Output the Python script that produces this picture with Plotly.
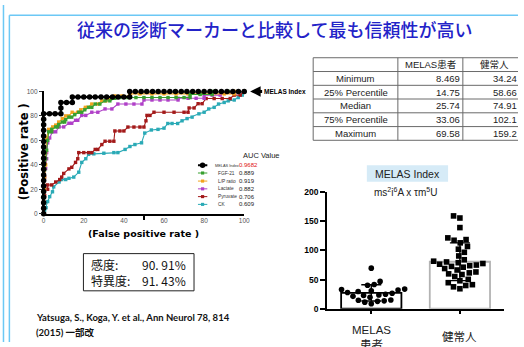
import numpy as np
import plotly.graph_objects as go

W, H = 524, 347


def fx(x):
    """pixel column -> paper x"""
    return x / W


def fy(y):
    """pixel row -> paper y"""
    return 1 - y / H


SANS = "Liberation Sans, Noto Sans CJK JP"
CJK = "Noto Sans CJK JP"

# ---------------- ROC curves: false positive rate (%) / sensitivity (%) ----------------
melas_index_fpr = [0, 0, 0, 0, 0, 0, 0, 0, 0, 0, 0, 0, 0, 0, 0, 0, 0, 0, 0,
                   2.9, 5.7, 8.6, 8.6, 8.6, 11.4, 14.3, 14.3,
                   17.1, 20.0, 22.9, 25.7, 28.6, 31.4, 34.3, 37.1, 40.0, 42.9, 42.9,
                   45.7, 48.6, 51.4, 54.3, 57.1, 60.0, 62.9, 65.7, 68.6, 71.4,
                   74.3, 77.1, 80.0, 82.9, 85.7, 88.6, 91.4, 94.3, 97.1, 100]
melas_index_tpr = [0, 4.5, 9.1, 13.6, 18.2, 22.7, 27.3, 31.8, 36.4, 40.9, 45.5, 50.0,
                   54.5, 59.1, 63.6, 68.2, 72.7, 77.3, 81.8,
                   81.8, 81.8, 81.8, 86.4, 90.9, 90.9, 90.9, 95.5,
                   95.5, 95.5, 95.5, 95.5, 95.5, 95.5, 95.5, 95.5, 95.5, 95.5, 100,
                   100, 100, 100, 100, 100, 100, 100, 100, 100, 100,
                   100, 100, 100, 100, 100, 100, 100, 100, 100, 100]

fgf21_fpr = [0, 0, 0, 0, 0.5, 1, 1.5, 2, 2.5, 4, 4, 6, 7, 7.5, 9.3, 10.5, 11, 12.6, 14, 15.5,
             17.5, 19, 20.5, 22.4, 24, 25.7, 28, 30.6, 33, 35.5, 38, 42, 46, 50, 54, 58, 62,
             66, 70, 73, 73, 78, 84, 84, 92, 100]
fgf21_tpr = [0, 9, 18, 27, 36, 45, 52, 60, 67, 67, 69, 71, 71, 73, 75, 75, 77, 79, 79, 81,
             83, 83, 85, 87, 87, 89.7, 89.7, 92.3, 92.3, 94.4, 95, 95, 95, 95, 95, 95, 95,
             95, 95, 95, 97.5, 97.5, 97.5, 100, 100, 100]

lp_fpr = [0, 0, 0.5, 0.5, 1, 1, 1.5, 2.5, 4, 4.5, 6, 7.5, 9.3, 11, 12.5, 14.2, 17, 18.5,
          20.8, 22, 24, 27, 29, 31, 32.3, 34, 35.5, 39, 43, 43, 48, 54, 60, 66, 72, 78, 84,
          90, 95, 95, 100]
lp_tpr = [0, 10, 20, 30, 40, 50, 62, 69, 69, 71, 72.5, 75, 77.8, 80, 80, 83, 83, 85,
          87, 87, 89.7, 89.7, 92.3, 92.3, 94.4, 94.4, 96.3, 96.3, 96.3, 98, 98, 98, 98, 98,
          98, 98, 98, 98, 98, 100, 100]

lactate_fpr = [0, 0, 0.5, 0.5, 1, 1.5, 1.5, 2, 3, 4.4, 6, 7.7, 10, 12.6, 14, 15.9, 17, 19,
               21, 24, 27, 30.6, 34, 37, 41, 45, 49, 50, 54, 58, 62, 67, 67, 72, 76, 80, 80,
               84, 88, 90, 95, 100]
lactate_tpr = [0, 10, 20, 30, 37, 45, 50, 58, 62, 67, 67, 71, 71, 74, 74, 76.4, 76.4, 80.4,
               80.4, 83, 83, 85.7, 85.7, 89.7, 89.7, 89.7, 89.7, 93, 93, 93, 93, 93, 94.4,
               94.4, 94.4, 94.4, 97, 97, 97, 98.5, 98.5, 100]

pyruvate_fpr = [0, 0, 0, 0.5, 1, 2, 2, 4, 6, 8, 9, 10, 12.6, 14, 15.9, 17, 17.5, 20, 22.4,
                24, 25.7, 27, 29, 30.6, 33, 35, 35.5, 38, 40, 42, 45, 48, 50, 51, 51.5, 53,
                55, 60, 65, 70, 72, 72.5, 75, 77, 79, 81, 85, 89, 93, 95, 98, 100]
pyruvate_tpr = [0, 5, 10, 15, 20, 20, 23.6, 23.6, 26, 28, 30, 33, 36.7, 38, 42, 45, 50, 50,
                50, 50, 52.6, 52.6, 56.6, 59.3, 59.3, 59.3, 67.7, 67.7, 67.7, 70.9, 70.9,
                70.9, 70.9, 76, 80.4, 80.4, 83, 83, 83, 83, 83, 86.5, 86.5, 90, 90, 94.2,
                94.2, 94.2, 94.2, 97, 97, 100]

ck_fpr = [0, 0.5, 1.2, 2, 3, 4.4, 5, 7.7, 9, 11, 12.6, 15, 17.5, 19, 21, 22.4, 25, 30, 35,
          37, 40.6, 43, 45.5, 48.8, 50.4, 53.7, 57, 60, 61.9, 64, 66.8, 69, 71.5, 74, 77.4,
          80, 82.3, 85, 87.2, 90, 92, 95, 97, 99, 100]
ck_tpr = [0, 3, 5, 10, 14, 18, 22, 26, 28, 28, 29, 30, 34, 42, 45, 48.6, 49, 49.5, 50, 50,
          52.6, 55, 56.6, 58, 66, 68.5, 69, 70, 73.8, 73.8, 73.8, 76, 77.8, 79, 81.7, 83,
          85.7, 87, 89.7, 91, 92.3, 93, 95, 97, 100]

roc_names = ["MELAS Index", "FGF-21", "L/P ratio", "Lactate", "Pyruvate", "CK"]
roc_auc = ["0.9682", "0.889", "0.919", "0.882", "0.706", "0.609"]
roc_colors = ["#000000", "#38a030", "#f2a31e", "#b040c8", "#a31a1a", "#2aaab6"]
roc_fpr = [melas_index_fpr, fgf21_fpr, lp_fpr, lactate_fpr, pyruvate_fpr, ck_fpr]
roc_tpr = [melas_index_tpr, fgf21_tpr, lp_tpr, lactate_tpr, pyruvate_tpr, ck_tpr]

# ---------------- summary table ----------------
table_header = ["MELAS患者", "健常人"]
table_rows = ["Minimum", "25% Percentile", "Median", "75% Percentile", "Maximum"]
table_melas = ["8.469", "14.75", "25.74", "33.06", "69.58"]
table_healthy = ["34.24", "58.66", "74.91", "102.1", "159.2"]

# ---------------- MELAS index per subject ----------------
groups = ["MELAS患者", "健常人"]
group_labels = ["MELAS<br>患者", "健常人"]
melas_values = [8.47, 11.2, 12.6, 13.5, 14.5, 14.83, 19.6, 21.2, 22.8, 23.7, 24.9,
                26.58, 27.8, 29.4, 30.8, 31.9, 32.9, 33.6, 40.2, 41.5, 46.8, 69.58]
healthy_values = [34.24, 37.5, 39.8, 41.2, 44.6, 47.9, 50.3, 55.2, 58.66, 59.8, 61.5,
                  63.0, 66.4, 68.9, 71.2, 72.6, 73.8, 74.91, 76.3, 77.5, 78.9, 80.2,
                  81.5, 84.0, 90.5, 96.8, 102.1, 106.8, 113.0, 117.4, 118.6, 121.5,
                  139.2, 155.6, 159.2]

sens_labels = ["感度:", "特異度:"]
sens_values = ["90. 91%", "91. 43%"]

fig = go.Figure()

# ---- ROC plot (drawn back to front, MELAS Index on top) ----
for i in range(len(roc_names) - 1, -1, -1):
    is_main = i == 0
    fig.add_trace(go.Scatter(
        x=roc_fpr[i], y=roc_tpr[i], mode="lines+markers",
        line=dict(color=roc_colors[i], width=2 if is_main else 1.1),
        marker=dict(color=roc_colors[i], size=5.5 if is_main else 3.4,
                    symbol="circle" if is_main else "square"),
        cliponaxis=False, showlegend=False, hoverinfo="skip",
        xaxis="x", yaxis="y"))

# ---- bar + scatter dot plot ----
px_per_unit = 120 / 200.0   # vertical pixels per index unit
px_per_cat = 90.0            # horizontal pixels per category


def swarm(values, diam):
    vals = np.asarray(values, float)
    offs = np.zeros(len(vals))
    placed = []
    for i in np.argsort(vals, kind="stable"):
        y = vals[i] * px_per_unit
        blocked = []
        for xj, yj in placed:
            dy = abs(y - yj)
            if dy < diam:
                w = np.sqrt(diam ** 2 - dy ** 2)
                blocked.append((xj - w, xj + w))
        cands = [0.0] + [a for a, _ in blocked] + [b for _, b in blocked]
        cands.sort(key=lambda c: (abs(c), c))
        for c in cands:
            if all(not (a + 1e-6 < c < b - 1e-6) for a, b in blocked):
                offs[i] = c
                break
        placed.append((offs[i], y))
    return offs / px_per_cat


means = [float(np.mean(melas_values)), float(np.mean(healthy_values))]
sds = [float(np.std(melas_values, ddof=1)), float(np.std(healthy_values, ddof=1))]

fig.add_trace(go.Bar(
    x=[0, 1], y=means, width=0.68,
    marker=dict(color="white", line=dict(color=["#000000", "#b3b3b3"], width=1.8)),
    error_y=dict(type="data", array=sds, color="black", thickness=1.4, width=10),
    showlegend=False, hoverinfo="skip", xaxis="x2", yaxis="y2"))

for k, (vals, sym) in enumerate([(melas_values, "circle"), (healthy_values, "square")]):
    off = swarm(vals, 6.8)
    fig.add_trace(go.Scatter(
        x=k + off, y=vals, mode="markers",
        marker=dict(color="black", size=5.6, symbol=sym, line=dict(width=0)),
        cliponaxis=False, showlegend=False, hoverinfo="skip",
        xaxis="x2", yaxis="y2"))

shapes = []
ann = []

# slide frame
frame_col = "#6cc8f5"
shapes += [
    dict(type="line", xref="paper", yref="paper", x0=fx(1.5), x1=fx(1.5), y0=0, y1=1,
         line=dict(color=frame_col, width=1.5)),
    dict(type="line", xref="paper", yref="paper", x0=fx(7.5), x1=fx(7.5), y0=0, y1=fy(10.5),
         line=dict(color=frame_col, width=1.5)),
    dict(type="line", xref="paper", yref="paper", x0=fx(7.5), x1=1, y0=fy(10.5), y1=fy(10.5),
         line=dict(color=frame_col, width=1.5)),
]

# title
ann.append(dict(x=fx(277), y=fy(25), xref="paper", yref="paper", text="従来の診断マーカーと比較して最も信頼性が高い",
                showarrow=False, xanchor="center", yanchor="middle",
                font=dict(family=CJK, size=18, color="#2323c8", weight=500)))

# ROC axis titles
ann.append(dict(x=fx(22), y=fy(151), xref="paper", yref="paper", text="(Positive rate )",
                textangle=-90, showarrow=False, xanchor="center", yanchor="middle",
                font=dict(family="DejaVu Sans", size=11.5, color="black", weight="bold")))
ann.append(dict(x=fx(144), y=fy(235), xref="paper", yref="paper", text="(False positive rate )",
                showarrow=False, xanchor="center", yanchor="middle",
                font=dict(family="DejaVu Sans", size=9.5, color="black", weight="bold")))

# arrow label for the MELAS Index curve
ann.append(dict(x=fx(252), y=fy(89), xref="paper", yref="paper", text="MELAS Index",
                showarrow=True, ax=12, ay=0, xanchor="left", yanchor="middle",
                arrowhead=2, arrowsize=0.7, arrowwidth=3, arrowcolor="black", standoff=0,
                font=dict(family=SANS, size=6.5, color="black", weight="bold")))

# AUC legend
ann.append(dict(x=fx(243), y=fy(155), xref="paper", yref="paper", text="AUC Value",
                showarrow=False, xanchor="left", yanchor="middle",
                font=dict(family=SANS, size=7.5, color="#222")))
row_y = [165, 173, 181.3, 189.3, 197.3, 205.3]
for i, name in enumerate(roc_names):
    yy = row_y[i]
    shapes.append(dict(type="line", xref="paper", yref="paper", x0=fx(199), x1=fx(208.5),
                       y0=fy(yy), y1=fy(yy),
                       line=dict(color=roc_colors[i], width=2 if i == 0 else 1)))
    r = 2.8 if i == 0 else 1.6
    shapes.append(dict(type="circle" if i == 0 else "rect", xref="paper", yref="paper",
                       x0=fx(203.7 - r), x1=fx(203.7 + r), y0=fy(yy + r), y1=fy(yy - r),
                       fillcolor=roc_colors[i], line=dict(width=0)))
    ann.append(dict(x=fx(214 if i == 0 else 217.5), y=fy(yy), xref="paper", yref="paper",
                    text=name, showarrow=False, xanchor="left", yanchor="middle",
                    font=dict(family=SANS, size=3.9 if i == 0 else 4.8, color="#333")))
    ann.append(dict(x=fx(238.5), y=fy(yy), xref="paper", yref="paper", text=roc_auc[i],
                    showarrow=False, xanchor="left", yanchor="middle",
                    font=dict(family=SANS, size=6, color="#e01010" if i == 0 else "#222")))

# summary table
t_lines_y = [54.3, 68.5, 82.7, 96.8, 111.0, 125.2, 139.3]
t_col_x = [316, 402, 468]
tcol = "#6a6a6a"
for yy in t_lines_y:
    shapes.append(dict(type="line", xref="paper", yref="paper", x0=fx(316), x1=1,
                       y0=fy(yy), y1=fy(yy), line=dict(color=tcol, width=1)))
for xx in t_col_x:
    shapes.append(dict(type="line", xref="paper", yref="paper", x0=fx(xx), x1=fx(xx),
                       y0=fy(54.3), y1=fy(139.3), line=dict(color=tcol, width=1)))
tfont = dict(family=SANS, size=9.5, color="#222")
ann.append(dict(x=fx(435), y=fy(61.5), xref="paper", yref="paper", text=table_header[0],
                showarrow=False, xanchor="center", yanchor="middle", font=tfont))
ann.append(dict(x=fx(483), y=fy(61.5), xref="paper", yref="paper", text=table_header[1],
                showarrow=False, xanchor="left", yanchor="middle", font=tfont))
for j in range(len(table_rows)):
    yy = (t_lines_y[j + 1] + t_lines_y[j + 2]) / 2
    ann.append(dict(x=fx(359), y=fy(yy), xref="paper", yref="paper", text=table_rows[j],
                    showarrow=False, xanchor="center", yanchor="middle", font=tfont))
    ann.append(dict(x=fx(467), y=fy(yy), xref="paper", yref="paper", text=table_melas[j],
                    showarrow=False, xanchor="right", yanchor="middle", font=tfont))
    ann.append(dict(x=fx(525), y=fy(yy), xref="paper", yref="paper", text=table_healthy[j],
                    showarrow=False, xanchor="right", yanchor="middle", font=tfont))

# dot plot heading
shapes.append(dict(type="rect", xref="paper", yref="paper", x0=fx(370.5), x1=fx(453),
                   y0=fy(182), y1=fy(165), fillcolor="#d6ebf7", line=dict(width=0)))
ann.append(dict(x=fx(411.7), y=fy(173.5), xref="paper", yref="paper", text="MELAS Index",
                showarrow=False, xanchor="center", yanchor="middle",
                font=dict(family=SANS, size=10.5, color="#222")))
ann.append(dict(x=fx(410), y=fy(193), xref="paper", yref="paper",
                text="ms<sup>2</sup>i<sup>6</sup>A x τm<sup>5</sup>U",
                showarrow=False, xanchor="center", yanchor="middle",
                font=dict(family=SANS, size=10, color="#222")))
for k, lab in enumerate(group_labels):
    ann.append(dict(x=k, y=fy(342), xref="x2", yref="paper", text=lab,
                    showarrow=False, xanchor="center", yanchor="middle",
                    font=dict(family=SANS, size=11.5, color="#222")))

# sensitivity / specificity box
shapes.append(dict(type="rect", xref="paper", yref="paper", x0=fx(82.7), x1=fx(195),
                   y0=fy(294.3), y1=fy(256), line=dict(color="#222", width=1)))
for j, yy in enumerate([267.5, 283.3]):
    ann.append(dict(x=fx(88), y=fy(yy), xref="paper", yref="paper", text=sens_labels[j],
                    showarrow=False, xanchor="left", yanchor="middle",
                    font=dict(family=CJK, size=12, color="#111")))
    ann.append(dict(x=fx(189), y=fy(yy), xref="paper", yref="paper", text=sens_values[j],
                    showarrow=False, xanchor="right", yanchor="middle",
                    font=dict(family=CJK, size=12, color="#111")))

# citation
cite_font = dict(family="Lato, Noto Sans CJK JP", size=9.5, color="#111", weight="bold")
ann.append(dict(x=fx(33), y=fy(322), xref="paper", yref="paper",
                text="Yatsuga, S., Koga, Y. et al., Ann Neurol 78, 814",
                showarrow=False, xanchor="left", yanchor="middle", font=cite_font))
ann.append(dict(x=fx(33), y=fy(337), xref="paper", yref="paper", text="(2015) 一部改",
                showarrow=False, xanchor="left", yanchor="middle", font=cite_font))

tick_small = dict(family=SANS, size=6.5, color="#555")
fig.update_layout(
    width=W, height=H, margin=dict(l=0, r=0, t=0, b=0),
    paper_bgcolor="white", plot_bgcolor="rgba(0,0,0,0)",
    showlegend=False,
    xaxis=dict(domain=[fx(42.3), fx(246)], range=[0, 100], anchor="y",
               tickvals=[0, 20, 40, 60, 80, 100], ticks="inside", ticklen=0,
               minor=dict(tickvals=[0, 50, 100], ticks="outside", ticklen=4,
                          tickwidth=1.5, tickcolor="black"),
               showline=True, linecolor="black", linewidth=1.5,
               showgrid=False, zeroline=False, tickfont=tick_small),
    yaxis=dict(domain=[fy(215), fy(89)], range=[0, 100], anchor="x",
               tickvals=[0, 20, 40, 60, 80, 100], ticks="outside", ticklen=3,
               tickwidth=1, tickcolor="#333",
               showline=True, linecolor="black", linewidth=1.5,
               showgrid=False, zeroline=False, tickfont=tick_small),
    xaxis2=dict(domain=[fx(330), fx(510)], range=[-0.5, 1.5], anchor="y2",
                tickvals=[0, 1], showticklabels=False, ticks="outside", ticklen=4,
                tickwidth=1.5, tickcolor="black",
                showline=True, linecolor="black", linewidth=1.6,
                showgrid=False, zeroline=False),
    yaxis2=dict(domain=[fy(312.7), fy(192.7)], range=[0, 200], anchor="x2",
                tickvals=[0, 50, 100, 150, 200], ticks="outside", ticklen=5,
                tickwidth=1.5, tickcolor="black",
                showline=True, linecolor="black", linewidth=1.6,
                showgrid=False, zeroline=False,
                tickfont=dict(family=SANS, size=8.5, color="black", weight="bold")),
    shapes=shapes, annotations=ann,
)

fig.write_html("out.html")
